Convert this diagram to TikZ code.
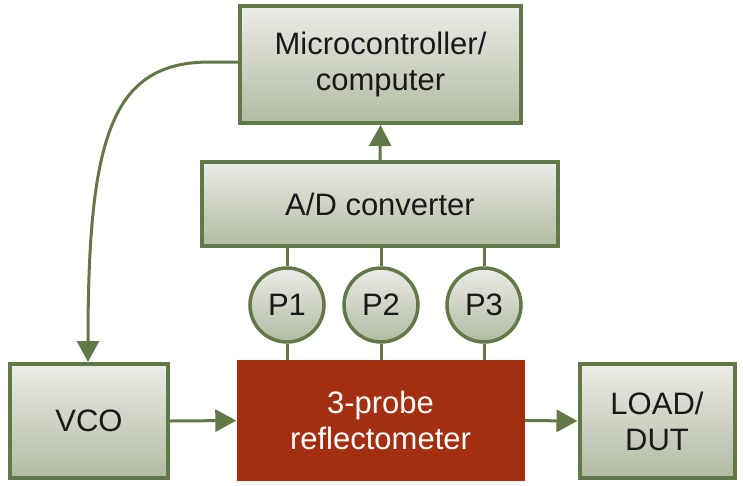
\documentclass[tikz,border=0pt]{standalone}
\usepackage{fontspec}
\setmainfont{Liberation Sans}
\usetikzlibrary{arrows.meta}
\definecolor{olive}{RGB}{98,120,70}
\definecolor{boxtop}{RGB}{234,236,230}
\definecolor{boxbot}{RGB}{178,186,162}
\definecolor{rust}{RGB}{163,46,16}
\definecolor{ink}{RGB}{25,25,25}
\tikzset{
  labelfont/.style={font=\fontsize{31}{36}\selectfont},
  block/.style={draw=olive, line width=4pt, top color=boxtop, bottom color=boxbot,
    text=ink, labelfont, align=center, inner sep=0pt},
  probe/.style={circle, draw=olive, line width=3.5pt, top color=boxtop, bottom color=boxbot,
    text=ink, labelfont, minimum size=74pt, inner sep=0pt},
  hotblock/.style={fill=rust, text=white, labelfont, align=center, inner sep=0pt},
  wire/.style={draw=olive, line width=3pt},
  flow/.style={wire, -{Triangle[length=21pt,width=22pt]}}
}
\begin{document}
\begin{tikzpicture}[x=1pt, y=-1pt]
\useasboundingbox (0,0) rectangle (743,485);
% upper chain
\node[block, minimum width=281pt, minimum height=117pt] (mcu) at (380.5,64.5) {Microcontroller/\\computer};
\node[block, minimum width=356pt, minimum height=84pt] (adc) at (380,204) {A/D converter};
% probes
\node[probe] (p1) at (287,305) {P1};
\node[probe] (p2) at (381,305) {P2};
\node[probe] (p3) at (484,305) {P3};
% lower chain
\node[hotblock, minimum width=288pt, minimum height=121pt] (refl) at (380.5,420.5) {3-probe\\reflectometer};
\node[block, minimum width=158pt, minimum height=114pt] (vco) at (89,421) {VCO};
\node[block, minimum width=155pt, minimum height=114pt] (load) at (657,421) {LOAD/\\DUT};
% connectors
\draw[flow] (adc.north) -- (mcu.south);
\foreach \p in {p1,p2,p3} {
  \draw[wire] (adc.south -| \p.north) -- (\p.north);
  \draw[wire] (\p.south) -- (refl.north -| \p.south);
}
\draw[flow] (vco.east) -- (refl.west);
\draw[flow] (refl.east) -- (load.west);
\coordinate (mcuout) at (mcu.west |- 0,62);
\coordinate (vcoin) at (vco.north -| 88,0);
\draw[flow] (mcuout) -- (210,62) .. controls (112,62) and (88,135) .. (vcoin);
\end{tikzpicture}
\end{document}
